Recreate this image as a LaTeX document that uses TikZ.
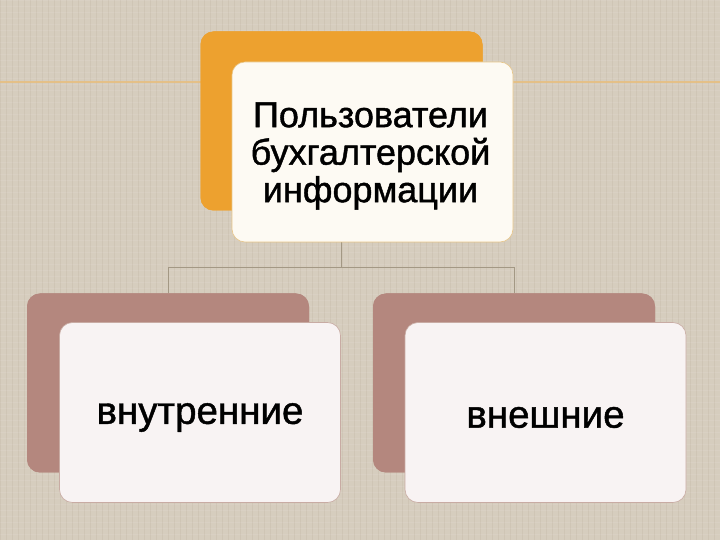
\documentclass[tikz,border=0pt]{standalone}
\usepackage{fontspec}
\setmainfont{Liberation Sans}[FakeBold=1.2]
\definecolor{bgc}{HTML}{D6CDBE}
\definecolor{orng}{HTML}{EDA12F}
\definecolor{brwn}{HTML}{B4877E}
\definecolor{linec}{HTML}{A39884}
\definecolor{topfill}{HTML}{FDFAF3}
\definecolor{botfill}{HTML}{F8F3F3}
\definecolor{topedge}{HTML}{E8C688}
\definecolor{botedge}{HTML}{C8ABA3}
\definecolor{hline}{HTML}{E6BF82}
\tikzset{
  backbox/.style={rectangle, rounded corners=13pt, draw=none, minimum width=282pt, minimum height=179pt, inner sep=0pt},
  frontbox/.style={rectangle, rounded corners=13pt, line width=0.6pt, minimum width=281pt, minimum height=180pt, inner sep=0pt},
  label/.style={inner sep=0pt, align=center, text=black},
  conn/.style={draw=linec, line width=0.9pt},
}
\begin{document}
\begin{tikzpicture}[x=1pt,y=1pt]
\fill[bgc] (0,0) rectangle (720,540);
\useasboundingbox (0,0) rectangle (720,540);
% faint texture
\foreach \i in {0,6,...,540} {\draw[white,opacity=0.08,line width=0.6pt] (0,\i) -- (720,\i);}
\foreach \i in {0,6,...,720} {\draw[black!50!brown,opacity=0.05,line width=0.6pt] (\i,0) -- (\i,540);}
\draw[hline,line width=1.6pt,opacity=0.9] (0,458) -- (720,458);
\node[backbox, fill=orng] (topb) at (341.5,419) {};
\node[backbox, fill=brwn] (leftb) at (168,157) {};
\node[backbox, fill=brwn] (rightb) at (514,157) {};
\coordinate (mid) at (341.5,273);
\draw[conn] (topb.center) -- (mid);
\draw[conn] (mid) -| (leftb.north);
\draw[conn] (mid) -| (rightb.north);
\node[backbox, fill=orng] at (341.5,419) {};
\node[backbox, fill=brwn] at (168,157) {};
\node[backbox, fill=brwn] at (514,157) {};
\node[frontbox, fill=topfill, draw=topedge] (topf) at (372.5,388) {};
\node[frontbox, fill=botfill, draw=botedge] (leftf) at (200,127.5) {};
\node[frontbox, fill=botfill, draw=botedge] (rightf) at (545.5,127.5) {};
\node[label, font=\fontsize{36}{37.5}\selectfont] (topt) at ([xshift=-2pt,yshift=-4pt]topf.center) {Пользователи\\бухгалтерской\\информации};
\node[label, font=\fontsize{38.5}{40}\selectfont] (leftt) at ([yshift=-5pt]leftf.center) {внутренние};
\node[label, font=\fontsize{38.5}{40}\selectfont] (rightt) at ([yshift=-5pt]rightf.center) {внешние};
\end{tikzpicture}
\end{document}
